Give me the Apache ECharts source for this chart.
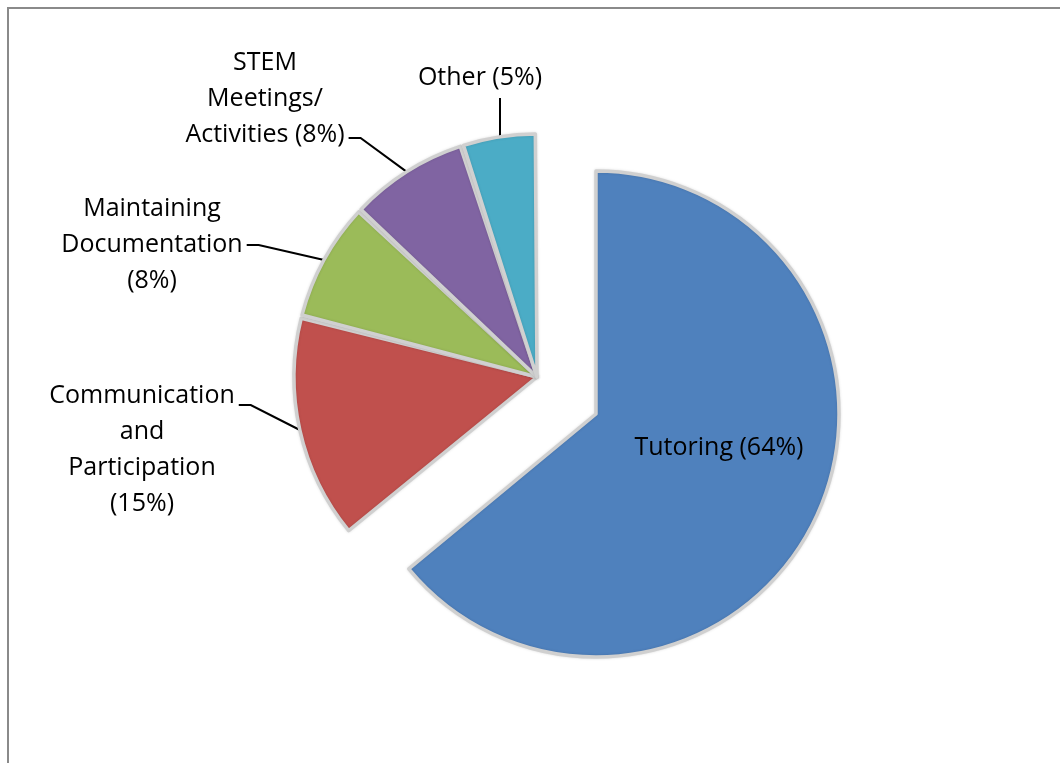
<!DOCTYPE html>
<html>
<head>
<meta charset="utf-8">
<script src="https://cdn.jsdelivr.net/npm/echarts@6/dist/echarts.min.js"></script>
<style>
  html, body { margin: 0; padding: 0; background: #fff; }
  #chart { width: 1060px; height: 763px; }
</style>
</head>
<body>
<div id="chart"></div>
<script>
// ---- data ----
const categories = ['Tutoring', 'Communication\nand\nParticipation', 'Maintaining\nDocumentation', 'STEM\nMeetings/\nActivities', 'Other'];
const values = [64, 15, 8, 8, 5];
const labelSep = [' ', '\n', '\n', ' ', ' '];
const colors = ['#4F81BD', '#C0504D', '#9BBB59', '#8064A2', '#4BACC6'];

// ---- layout (positions of label blocks, not data) ----
const labelCenters = [[719, 448], [142, 450], [152, 245], [265, 99], [480, 78]];
const lineAttach = [null, { side: 'right', dy: -45 }, { side: 'right', dy: 0 }, { side: 'right', dy: 39 }, { side: 'bottom', dx: 20 }];

const FONT = '"Open Sans", "Noto Sans", sans-serif';
const labelStyle = { color: '#000', fontSize: 25, lineHeight: 36, fontFamily: FONT, align: 'center' };
const sliceBorder = { borderColor: '#d0d0d0', borderWidth: 3.5, shadowColor: 'rgba(0,0,0,0.12)', shadowBlur: 3 };

function fmt(p) { return categories[p.dataIndex] + labelSep[p.dataIndex] + '(' + p.value + '%)'; }

// series A: the detached Tutoring slice
const dataA = values.map((v, i) => {
  const visible = i === 0;
  return {
    name: categories[i], value: v,
    itemStyle: visible ? Object.assign({ color: colors[i] }, sliceBorder) : { color: 'rgba(0,0,0,0)', borderWidth: 0 },
    label: { show: visible },
    labelLine: { show: false }
  };
});
// series B: the remaining slices
const dataB = values.map((v, i) => {
  const visible = i !== 0;
  return {
    name: categories[i], value: v,
    itemStyle: visible ? Object.assign({ color: colors[i] }, sliceBorder) : { color: 'rgba(0,0,0,0)', borderWidth: 0, shadowBlur: 0 },
    label: { show: visible },
    labelLine: { show: visible }
  };
});

const chart = echarts.init(document.getElementById('chart'), null, { renderer: 'canvas' });
chart.setOption({
  backgroundColor: '#fff',
  animation: false,
  graphic: [{
    type: 'rect', shape: { x: 8, y: 8, width: 1200, height: 900 },
    style: { fill: 'none', stroke: '#8a8a8a', lineWidth: 2 }, silent: true, z: -1
  }],
  series: [
    {
      type: 'pie', center: [596, 414], radius: [0, 243], startAngle: 90, clockwise: true,
      avoidLabelOverlap: false, silent: true,
      label: Object.assign({ position: 'inside', formatter: fmt }, labelStyle),
      labelLayout: function (p) {
        const c = labelCenters[p.dataIndex];
        return { x: c[0], y: c[1], align: 'center', verticalAlign: 'middle' };
      },
      data: dataA
    },
    {
      type: 'pie', center: [537, 377], radius: [0, 243], startAngle: 90, clockwise: true,
      avoidLabelOverlap: false, silent: true, padAngle: 0.8,
      label: Object.assign({ position: 'outside', formatter: fmt }, labelStyle),
      labelLine: { show: true, length: 10, length2: 10, lineStyle: { color: '#000', width: 2 } },
      labelLayout: function (p) {
        const i = p.dataIndex;
        const c = labelCenters[i];
        const a = lineAttach[i];
        const w = p.labelRect.width, h = p.labelRect.height;
        const anchor = p.labelLinePoints ? p.labelLinePoints[0] : null;
        const out = { x: c[0], y: c[1], align: 'center', verticalAlign: 'middle' };
        if (anchor && a) {
          if (a.side === 'right') {
            const ax = c[0] + w / 2 + 4, ay = c[1] + a.dy;
            out.labelLinePoints = [[anchor[0], anchor[1]], [ax + 12, ay], [ax, ay]];
          } else {
            const ax = c[0] + a.dx, ay = c[1] + h / 2 + 2;
            out.labelLinePoints = [[ax, anchor[1]], [ax, (anchor[1] + ay) / 2], [ax, ay]];
          }
        }
        return out;
      },
      data: dataB
    }
  ]
});
</script>
</body>
</html>
